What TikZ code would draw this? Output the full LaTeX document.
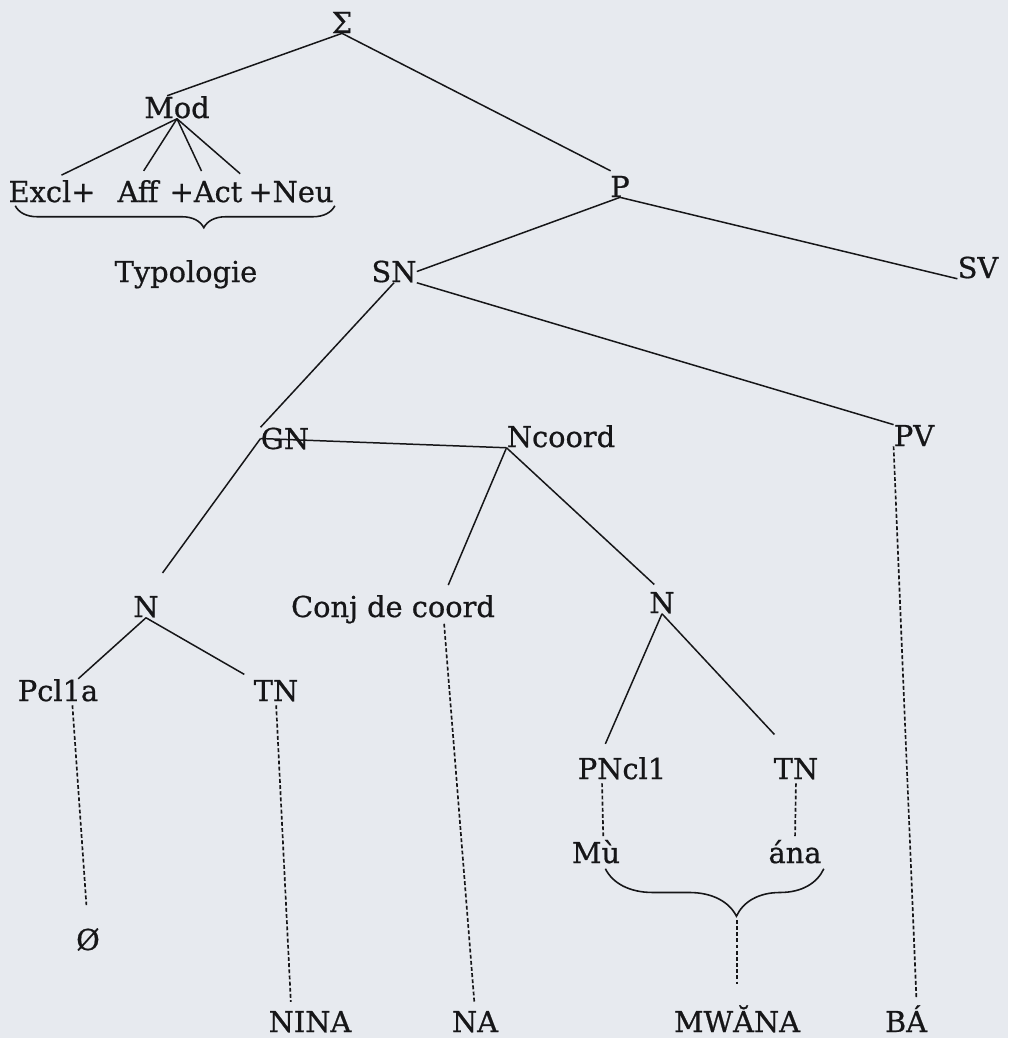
\documentclass[tikz,border=0pt]{standalone}
\usepackage{fontspec}
\setmainfont{DejaVu Serif}[UprightFeatures={FakeBold=0.7}]
\usetikzlibrary{calc, decorations.pathreplacing}
\definecolor{paper}{RGB}{231,234,239}
\definecolor{ink}{RGB}{22,22,24}

\begin{document}
\begin{tikzpicture}[
    x=0.02cm, y=-0.02cm,
    font=\fontsize{16.4}{20}\selectfont,
    lbl/.style={inner sep=0pt, anchor=base, text=ink},
    branch/.style={draw=ink, line width=0.85pt},
    link/.style={draw=ink, line width=0.95pt, dash pattern=on 2.2pt off 1.3pt},
    brc/.style={draw=ink, line width=0.9pt, decorate, decoration={brace, mirror, amplitude=#1}}
]

    \fill[paper] (0,0) rectangle (1008,1038);
    \useasboundingbox (0,0) rectangle (1008,1038);

    \node[lbl] (Sigma) at (342,33) {Σ};
    \node[lbl] (Mod) at (177,118) {Mod};
    \node[lbl] (Excl) at (52,202) {Excl+};
    \node[lbl] (Aff) at (138,202) {Aff};
    \node[lbl] (Act) at (206,202) {+Act};
    \node[lbl] (Neu) at (291,202) {+Neu};
    \node[lbl] (Typo) at (186,282) {Typologie};
    \node[lbl] (P) at (620,197) {P};
    \node[lbl] (SN) at (394,282) {SN};
    \node[lbl] (SV) at (978,278) {SV};
    \node[lbl] (GN) at (285,449) {GN};
    \node[lbl] (Ncoord) at (561,447) {Ncoord};
    \node[lbl] (PV) at (914,446) {PV};
    \node[lbl] (Nl) at (146,617) {N};
    \node[lbl] (Conj) at (393,617) {Conj de coord};
    \node[lbl] (Nr) at (662,613) {N};
    \node[lbl] (Pcl) at (58,701) {Pcl1a};
    \node[lbl] (TNl) at (276,701) {TN};
    \node[lbl] (PNcl) at (622,779) {PNcl1};
    \node[lbl] (TNr) at (796,779) {TN};
    \node[lbl] (Mu) at (596,863) {Mù};
    \node[lbl] (ana) at (795,863) {ána};
    \node[lbl] (Zero) at (88,950) {Ø};
    \node[lbl] (NINA) at (310,1032) {NINA};
    \node[lbl] (NA) at (475,1032) {NA};
    \node[lbl] (MWANA) at (737,1032) {MWĂNA};
    \node[lbl] (BA) at (906,1032) {BÁ};

    % tree
    \draw[branch] (Sigma.south) -- ($(Mod.north)!0.3!(Mod.north west)$);
    \draw[branch, shorten >=6pt] (Sigma.south) -- (P.north);
    \foreach \c/\a in {Excl/north, Aff/north, Act/north, Neu/north west}
        \draw[branch, shorten >=6pt] (Mod.south) -- (\c.\a);
    \draw[branch] (P.south) -- (SN.east);
    \draw[branch] (P.south) -- (SV.south west);
    \draw[branch] (SN.south) -- (GN.north west);
    \draw[branch] (SN.south east) -- (PV.north west);
    \draw[branch] (GN.west) -- (Ncoord.south west);
    \draw[branch, shorten >=16pt] (GN.west) -- (Nl.north);
    \draw[branch, shorten >=6pt] (Ncoord.south west) -- ($(Conj.north)!0.5!(Conj.north east)$);
    \draw[branch, shorten >=6pt] (Ncoord.south west) -- (Nr.north);
    \draw[branch] (Nl.south) -- ($(Pcl.north)!0.5!(Pcl.north east)$);
    \draw[branch, shorten >=6pt] (Nl.south) -- (TNl.north west);
    \draw[branch, shorten >=8pt] (Nr.south) -- ($(PNcl.north)!0.5!(PNcl.north west)$);
    \draw[branch, shorten >=18pt] (Nr.south) -- (TNr.north);

    % lexical links
    \draw[link, shorten <=2pt, shorten >=13pt] ($(Pcl.south)!0.35!(Pcl.south east)$) -- (Zero.north);
    \draw[link, shorten <=2pt, shorten >=5pt] (TNl.south) -- ($(NINA.north)!0.45!(NINA.north west)$);
    \draw[link, shorten >=5pt] ($(Conj.south)!0.5!(Conj.south east)$) -- (NA.north);
    \draw[link, shorten >=4pt] (PV.south west) -- ($(BA.north)!0.5!(BA.north east)$);
    \draw[link, shorten <=2pt, shorten >=2pt] ($(PNcl.south)!0.45!(PNcl.south west)$) -- ($(Mu.north)!0.3!(Mu.north east)$);
    \draw[link, shorten <=2pt, shorten >=2pt] (TNr.south) -- (ana.north);

    % braces
    \draw[brc=12.5pt, decoration={aspect=0.59}] ($(Excl.south west)+(7,3)$) -- ($(Neu.south east)+(1,3)$);
    \draw[brc=27pt, decoration={aspect=0.6}] ($(Mu.south east)+(-15,5)$) -- ($(ana.south east)+(2,5)$);
    \coordinate (tipM) at (737,920);
    \draw[link, shorten >=12pt] (tipM) -- (MWANA.north);

\end{tikzpicture}
\end{document}
